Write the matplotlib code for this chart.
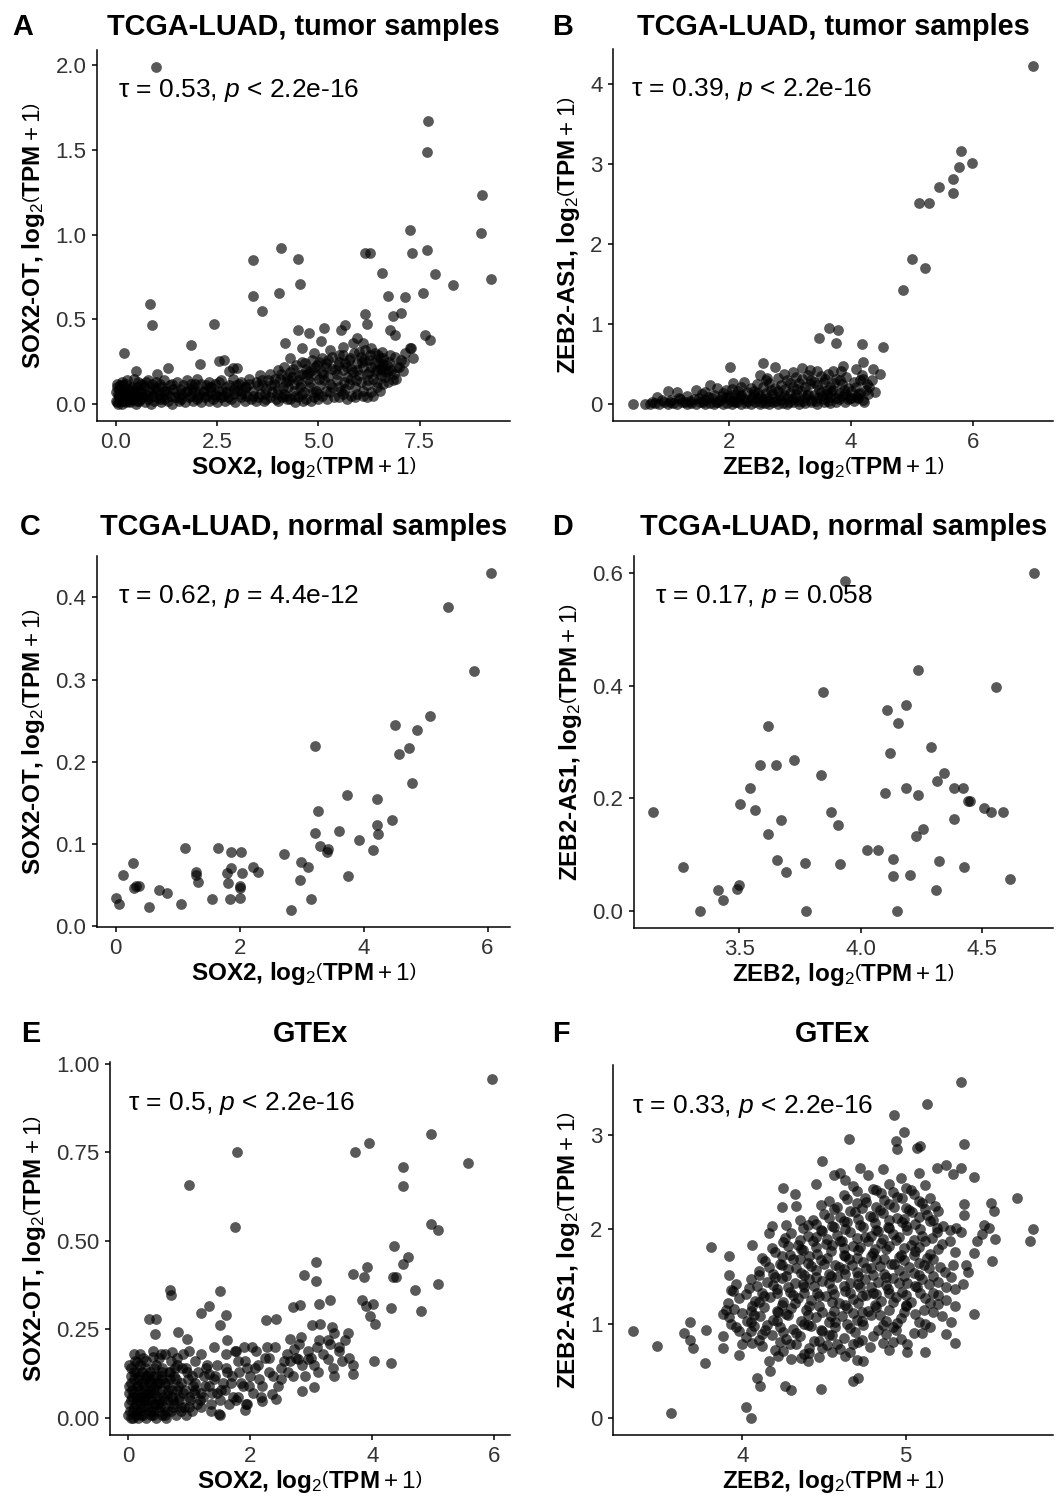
#!/usr/bin/env python3
"""SOX2 / SOX2-OT and ZEB2 / ZEB2-AS1 co-expression scatter panels."""

import matplotlib.pyplot as plt
import numpy as np

plt.rcParams["font.family"] = ["Liberation Sans", "DejaVu Sans"]
plt.rcParams["mathtext.fontset"] = "custom"
plt.rcParams["mathtext.rm"] = "Liberation Sans"
plt.rcParams["mathtext.it"] = "Liberation Sans:italic"
plt.rcParams["mathtext.bf"] = "Liberation Sans:bold"

# ---- data: (expression of gene, expression of lncRNA), log2(TPM + 1) ----
sox2_tumor = [
    (0.99, 1.99), (7.72, 1.67), (7.69, 1.49), (9.05, 1.235), (9.02, 1.01), (9.27, 0.74),
    (7.26, 1.03), (7.32, 0.89), (7.69, 0.91), (6.16, 0.89), (6.28, 0.89), (7.89, 0.765),
    (8.33, 0.705), (6.58, 0.775), (4.07, 0.92), (3.40, 0.85), (4.51, 0.857), (4.55, 0.71),
    (4.04, 0.657), (3.40, 0.637), (3.60, 0.55), (7.58, 0.657), (6.73, 0.637), (7.14, 0.63),
    (0.85, 0.588), (0.89, 0.467), (2.42, 0.475), (6.16, 0.53), (6.84, 0.52), (7.05, 0.54),
    (6.20, 0.47), (5.14, 0.45), (4.78, 0.42), (4.49, 0.44), (4.17, 0.36), (5.55, 0.44),
    (5.67, 0.467), (5.96, 0.39), (6.76, 0.44), (6.89, 0.41), (7.64, 0.41), (7.76, 0.38),
    (0.20, 0.30), (1.86, 0.35), (2.07, 0.235), (1.28, 0.215), (0.49, 0.196), (2.54, 0.255),
    (2.66, 0.26), (2.90, 0.215), (5.06, 0.37), (4.61, 0.33), (7.26, 0.33), (7.34, 0.275),
    (7.10, 0.196), (6.93, 0.147), (6.53, 0.275), (6.61, 0.235), (6.47, 0.29), (6.57, 0.22),
    (6.73, 0.194), (1.02, 0.175), (2.79, 0.194), (3.00, 0.214), (4.30, 0.27), (0.15, 0.13),
    (0.45, 0.15), (0.75, 0.13), (1.10, 0.12), (1.50, 0.13), (1.85, 0.12),
    (0.02, 0.01), (0.10, 0.03), (0.15, 0.00), (0.22, 0.02), (0.30, 0.04), (0.35, 0.01),
    (0.42, 0.03), (0.50, 0.00), (0.58, 0.02), (0.65, 0.04), (0.72, 0.01), (0.80, 0.03),
    (0.88, 0.00), (0.95, 0.02), (1.05, 0.04), (1.12, 0.01), (1.20, 0.03), (1.30, 0.02),
    (1.38, 0.00), (1.45, 0.04), (1.55, 0.02), (1.62, 0.03), (1.70, 0.01), (1.80, 0.04),
    (1.90, 0.02), (2.00, 0.03), (2.10, 0.01), (2.20, 0.04), (2.30, 0.02), (2.40, 0.03),
    (2.50, 0.01), (2.60, 0.04), (2.70, 0.02), (2.85, 0.03), (2.95, 0.01), (3.10, 0.04),
    (3.20, 0.02), (3.35, 0.03), (3.50, 0.04), (3.65, 0.02), (3.80, 0.04), (3.95, 0.03),
    (4.10, 0.04), (4.30, 0.03), (4.50, 0.04), (4.70, 0.03), (4.90, 0.04), (5.10, 0.05),
    (5.40, 0.04), (5.60, 0.06), (5.80, 0.05),
    (0.05, 0.06), (0.12, 0.08), (0.20, 0.05), (0.28, 0.07), (0.38, 0.06), (0.45, 0.08),
    (0.55, 0.05), (0.62, 0.07), (0.75, 0.06), (0.85, 0.08), (0.92, 0.05), (1.00, 0.07),
    (1.10, 0.06), (1.25, 0.08), (1.35, 0.05), (1.48, 0.07), (1.60, 0.06), (1.75, 0.08),
    (1.85, 0.05), (1.95, 0.07), (2.05, 0.06), (2.15, 0.08), (2.25, 0.05), (2.35, 0.07),
    (2.45, 0.06), (2.55, 0.08), (2.65, 0.05), (2.75, 0.07), (2.90, 0.06), (3.00, 0.08),
    (3.15, 0.07), (3.25, 0.05), (3.40, 0.08), (3.55, 0.06), (3.70, 0.09), (3.85, 0.07),
    (4.00, 0.09), (4.15, 0.06), (4.25, 0.10), (4.40, 0.08), (4.55, 0.10), (4.65, 0.07),
    (4.80, 0.10), (4.95, 0.08), (5.05, 0.11), (5.20, 0.08), (5.30, 0.12), (5.50, 0.10),
    (5.65, 0.09), (5.75, 0.12), (5.90, 0.10), (6.05, 0.13), (6.20, 0.11),
    (0.10, 0.11), (0.25, 0.12), (0.40, 0.10), (0.55, 0.13), (0.70, 0.10), (0.90, 0.12),
    (1.15, 0.10), (1.40, 0.12), (1.65, 0.11), (1.90, 0.10), (2.10, 0.12), (2.35, 0.10),
    (2.55, 0.13), (2.80, 0.11), (3.05, 0.12), (3.20, 0.10), (3.45, 0.13), (3.60, 0.11),
    (3.75, 0.14), (3.90, 0.12), (4.05, 0.15), (4.20, 0.13), (4.35, 0.16), (4.50, 0.14),
    (4.60, 0.18), (4.75, 0.15), (4.85, 0.20), (4.95, 0.17), (5.10, 0.19), (5.25, 0.16),
    (5.35, 0.21), (5.45, 0.18), (5.60, 0.20), (5.70, 0.16), (5.85, 0.19), (6.00, 0.17),
    (6.10, 0.22), (6.25, 0.19), (6.35, 0.15), (6.45, 0.20), (6.55, 0.17), (6.70, 0.23),
    (6.80, 0.20),
    (3.30, 0.15), (3.55, 0.17), (3.80, 0.18), (4.00, 0.20), (4.15, 0.22), (4.30, 0.19),
    (4.45, 0.23), (4.60, 0.25), (4.70, 0.21), (4.85, 0.26), (4.98, 0.23), (5.10, 0.27),
    (5.20, 0.24), (5.35, 0.28), (5.50, 0.25), (5.62, 0.29), (5.75, 0.26), (5.88, 0.30),
    (5.95, 0.24), (6.05, 0.28), (6.15, 0.32), (6.25, 0.26), (6.40, 0.30), (6.50, 0.24),
    (6.60, 0.27), (6.75, 0.25), (6.90, 0.28), (7.00, 0.22), (7.15, 0.30), (7.30, 0.33),
    (6.30, 0.07), (6.45, 0.10), (6.60, 0.12), (6.20, 0.04), (5.95, 0.06),
    (0.00, 0.02), (0.05, 0.00), (0.08, 0.05), (0.12, 0.02), (0.18, 0.04), (0.22, 0.08),
    (0.26, 0.01), (0.32, 0.06), (0.36, 0.03), (0.40, 0.09), (0.46, 0.05), (0.52, 0.02),
    (0.60, 0.08), (0.68, 0.04), (0.00, 0.07), (0.03, 0.10), (0.27, 0.14), (0.62, 0.12),
    (0.80, 0.14), (1.00, 0.13), (1.20, 0.14), (1.75, 0.14), (2.00, 0.15), (2.30, 0.13),
    (2.60, 0.14), (2.90, 0.15), (3.10, 0.13),
    (4.20, 0.05), (4.40, 0.12), (4.60, 0.06), (4.80, 0.13), (5.00, 0.06), (5.15, 0.14),
    (5.30, 0.07), (5.45, 0.14), (5.55, 0.08), (5.70, 0.22), (5.80, 0.15), (5.95, 0.20),
    (6.10, 0.08), (6.20, 0.18), (6.30, 0.22), (6.45, 0.13), (6.55, 0.21), (6.65, 0.16),
    (6.85, 0.14), (7.05, 0.26), (4.90, 0.30), (5.30, 0.32), (5.60, 0.34), (5.85, 0.36),
    (6.10, 0.36), (6.30, 0.33),
    (0.07, 0.04), (0.18, 0.06), (0.33, 0.02), (0.47, 0.07), (0.61, 0.03), (0.77, 0.05),
    (0.93, 0.09), (1.08, 0.03), (1.24, 0.06), (1.41, 0.09), (1.57, 0.04), (1.73, 0.07),
    (1.88, 0.09), (2.03, 0.04), (2.18, 0.07), (2.33, 0.10), (2.48, 0.05), (2.63, 0.08),
    (2.78, 0.04), (2.93, 0.09), (3.08, 0.06), (3.22, 0.10), (3.38, 0.05), (3.52, 0.11),
    (3.68, 0.06), (3.83, 0.11), (3.98, 0.06), (4.13, 0.10), (4.28, 0.14), (4.43, 0.05),
    (4.58, 0.12), (4.73, 0.18), (4.88, 0.07), (5.03, 0.15), (5.18, 0.22), (5.33, 0.10),
    (5.48, 0.23), (5.63, 0.13), (5.78, 0.27), (5.93, 0.14), (6.08, 0.25), (6.22, 0.14),
    (6.38, 0.24), (6.52, 0.08), (6.68, 0.19), (6.78, 0.29), (6.95, 0.22), (7.12, 0.25),
    (0.02, 0.12), (0.09, 0.09), (0.19, 0.11), (0.31, 0.09), (0.53, 0.10), (0.68, 0.11),
    (0.98, 0.10), (1.18, 0.08), (1.33, 0.11), (1.62, 0.09), (1.95, 0.12), (2.22, 0.11),
    (2.45, 0.12), (2.72, 0.10), (2.98, 0.11), (3.28, 0.12), (3.62, 0.14), (3.92, 0.15),
    (4.08, 0.18), (4.22, 0.16), (4.38, 0.21), (4.52, 0.17), (4.68, 0.24), (4.78, 0.19),
    (4.92, 0.22), (5.02, 0.25), (5.12, 0.18), (5.25, 0.26), (5.42, 0.20), (5.52, 0.29),
    (5.66, 0.24), (5.82, 0.21), (6.00, 0.31), (6.12, 0.26), (6.28, 0.29), (6.42, 0.19),
    (6.58, 0.31), (6.72, 0.13), (6.88, 0.18),
    (3.45, 0.02), (3.72, 0.03), (4.00, 0.02), (4.22, 0.03), (4.42, 0.01), (4.62, 0.02),
    (4.82, 0.02), (5.00, 0.03), (5.22, 0.03), (5.50, 0.04), (5.70, 0.03), (5.90, 0.04),
    (6.10, 0.05), (6.35, 0.05),
]

zeb2_tumor = [
    (6.99, 4.23), (5.81, 3.17), (5.78, 2.97), (5.98, 3.01), (5.68, 2.81), (5.68, 2.64),
    (5.45, 2.71), (5.11, 2.51), (5.28, 2.52), (5.00, 1.81), (5.22, 1.70), (4.86, 1.43),
    (3.48, 0.83), (3.64, 0.95), (3.79, 0.93), (3.75, 0.77), (4.18, 0.75), (4.53, 0.71),
    (3.87, 0.48), (4.20, 0.53), (4.37, 0.44), (4.09, 0.44), (2.01, 0.47), (2.56, 0.52),
    (2.75, 0.46), (0.42, 0.00), (0.61, 0.00),
    (0.82, 0.09), (1.00, 0.16), (1.14, 0.15), (1.46, 0.17), (1.68, 0.24), (2.07, 0.27),
    (3.05, 0.40), (3.19, 0.45), (3.33, 0.43), (3.44, 0.42), (4.47, 0.38), (3.71, 0.42),
    (3.83, 0.42), (4.15, 0.30), (4.27, 0.25), (3.98, 0.08), (4.12, 0.08),
    (0.70, 0.00), (0.78, 0.01), (0.85, 0.00), (0.93, 0.02), (1.00, 0.00), (1.08, 0.01),
    (1.15, 0.00), (1.22, 0.02), (1.30, 0.00), (1.38, 0.01), (1.45, 0.00), (1.52, 0.02),
    (1.60, 0.00), (1.68, 0.01), (1.75, 0.00), (1.82, 0.02), (1.90, 0.00), (1.97, 0.01),
    (2.05, 0.00), (2.12, 0.02), (2.20, 0.00), (2.28, 0.01), (2.35, 0.00), (2.42, 0.02),
    (2.50, 0.00), (2.58, 0.01), (2.65, 0.00), (2.72, 0.02), (2.80, 0.00), (2.88, 0.01),
    (2.95, 0.00), (3.05, 0.02), (3.15, 0.00), (3.25, 0.01), (3.35, 0.02), (3.45, 0.00),
    (3.55, 0.02), (3.65, 0.01), (3.75, 0.03), (3.90, 0.02), (4.05, 0.04),
    (1.05, 0.05), (1.20, 0.06), (1.35, 0.04), (1.50, 0.07), (1.60, 0.05), (1.72, 0.08),
    (1.85, 0.05), (1.95, 0.07), (2.05, 0.04), (2.15, 0.08), (2.25, 0.06), (2.35, 0.05),
    (2.45, 0.08), (2.55, 0.06), (2.65, 0.04), (2.75, 0.07), (2.85, 0.05), (2.95, 0.08),
    (3.05, 0.06), (3.15, 0.04), (3.25, 0.07), (3.35, 0.05), (3.45, 0.08), (3.55, 0.06),
    (3.65, 0.09), (3.75, 0.07), (3.85, 0.10), (3.95, 0.06), (4.10, 0.09), (4.20, 0.05),
    (1.30, 0.10), (1.55, 0.12), (1.75, 0.11), (1.90, 0.14), (2.00, 0.10), (2.10, 0.13),
    (2.20, 0.11), (2.30, 0.15), (2.40, 0.12), (2.50, 0.10), (2.60, 0.14), (2.70, 0.12),
    (2.80, 0.16), (2.90, 0.11), (3.00, 0.14), (3.10, 0.12), (3.20, 0.16), (3.30, 0.13),
    (3.40, 0.11), (3.50, 0.15), (3.60, 0.13), (3.70, 0.17), (3.80, 0.14), (3.90, 0.12),
    (4.00, 0.16), (4.15, 0.14), (4.25, 0.18),
    (1.80, 0.20), (2.05, 0.19), (2.20, 0.22), (2.35, 0.20), (2.45, 0.25), (2.55, 0.21),
    (2.65, 0.27), (2.75, 0.20), (2.85, 0.24), (2.95, 0.30), (3.05, 0.22), (3.15, 0.27),
    (3.25, 0.21), (3.35, 0.30), (3.45, 0.24), (3.55, 0.28), (3.65, 0.22), (3.75, 0.31),
    (3.85, 0.25), (3.95, 0.20), (4.05, 0.28), (4.20, 0.32), (4.30, 0.22),
    (2.50, 0.36), (2.62, 0.33), (2.90, 0.38), (3.10, 0.34), (3.30, 0.37), (3.50, 0.35),
    (3.62, 0.38),
    (0.74, 0.03), (0.89, 0.05), (1.03, 0.02), (1.17, 0.08), (1.27, 0.03), (1.42, 0.06),
    (1.57, 0.03), (1.66, 0.09), (1.79, 0.03), (1.88, 0.10), (2.00, 0.07), (2.09, 0.03),
    (2.18, 0.10), (2.30, 0.04), (2.38, 0.09), (2.47, 0.14), (2.53, 0.03), (2.62, 0.08),
    (2.68, 0.18), (2.77, 0.04), (2.83, 0.10), (2.92, 0.19), (2.98, 0.03), (3.08, 0.09),
    (3.12, 0.19), (3.22, 0.04), (3.28, 0.11), (3.32, 0.25), (3.42, 0.04), (3.48, 0.18),
    (3.52, 0.10), (3.58, 0.32), (3.62, 0.04), (3.68, 0.15), (3.72, 0.26), (3.80, 0.06),
    (3.88, 0.18), (3.92, 0.34), (4.00, 0.08), (4.08, 0.22), (4.12, 0.12), (4.18, 0.36),
    (4.22, 0.03), (4.28, 0.12), (4.35, 0.30), (4.40, 0.15), (2.25, 0.28), (2.40, 0.16),
    (2.60, 0.30), (2.80, 0.33), (3.00, 0.27), (3.20, 0.32), (3.40, 0.28), (3.60, 0.18),
    (3.82, 0.30), (1.60, 0.15), (1.95, 0.18), (2.15, 0.16),
]

sox2_normal = [
    (6.06, 0.430), (5.37, 0.389), (5.79, 0.311), (5.07, 0.255), (4.50, 0.245), (4.86, 0.239),
    (4.74, 0.217), (4.57, 0.209), (3.22, 0.219), (4.78, 0.174), (3.74, 0.159), (4.21, 0.155),
    (3.27, 0.140), (4.46, 0.129), (4.22, 0.123), (4.24, 0.112), (3.21, 0.113), (3.60, 0.116),
    (3.92, 0.105), (4.15, 0.092), (3.29, 0.097), (3.42, 0.093), (3.41, 0.090), (2.72, 0.088),
    (2.99, 0.078), (3.11, 0.072), (3.75, 0.061), (2.97, 0.056), (3.15, 0.032), (2.83, 0.019),
    (1.12, 0.095), (1.65, 0.095), (1.86, 0.090), (2.02, 0.090), (1.86, 0.070), (1.79, 0.064),
    (1.29, 0.065), (1.30, 0.062), (1.33, 0.053), (2.03, 0.064), (2.22, 0.072), (2.29, 0.066),
    (1.81, 0.052), (2.00, 0.049), (2.00, 0.046), (1.55, 0.032), (1.85, 0.032), (2.01, 0.034),
    (1.06, 0.026), (0.54, 0.023), (0.70, 0.044), (0.83, 0.040), (0.27, 0.076), (0.11, 0.062),
    (0.30, 0.046), (0.33, 0.048), (0.37, 0.049), (0.00, 0.034), (0.05, 0.027),
]

zeb2_normal = [
    (4.715, 0.600), (3.935, 0.586), (4.235, 0.427), (4.559, 0.398), (3.843, 0.388),
    (4.189, 0.365), (4.110, 0.356), (4.156, 0.334), (3.620, 0.328), (4.290, 0.292),
    (4.121, 0.281), (3.726, 0.268), (3.586, 0.260), (3.651, 0.259), (3.837, 0.242),
    (4.343, 0.245), (4.315, 0.231), (3.544, 0.219), (4.186, 0.219), (4.387, 0.219),
    (4.421, 0.219), (4.101, 0.209), (4.235, 0.206), (4.442, 0.196), (4.453, 0.195),
    (3.503, 0.190), (4.508, 0.183), (4.536, 0.176), (4.587, 0.176), (3.144, 0.176),
    (3.566, 0.180), (3.880, 0.176), (3.673, 0.162), (3.906, 0.152), (4.387, 0.164),
    (4.256, 0.146), (3.617, 0.136), (4.228, 0.134), (4.025, 0.109), (4.073, 0.108),
    (3.655, 0.091), (3.772, 0.086), (3.914, 0.084), (4.135, 0.093), (4.325, 0.089),
    (3.268, 0.079), (4.428, 0.078), (3.691, 0.069), (4.134, 0.062), (4.204, 0.064),
    (4.617, 0.057), (3.499, 0.046), (3.489, 0.040), (3.410, 0.038), (3.431, 0.020),
    (4.311, 0.037), (3.337, 0.000), (3.776, 0.000), (4.152, 0.000),
]

sox2_gtex = [
    (5.96, 0.957), (4.96, 0.802), (5.57, 0.721), (3.94, 0.777), (3.71, 0.750), (1.78, 0.752),
    (1.00, 0.658), (1.75, 0.538), (4.50, 0.709), (4.51, 0.656), (4.97, 0.549), (5.08, 0.530),
    (4.36, 0.486), (4.58, 0.455), (4.51, 0.434), (3.08, 0.440), (3.68, 0.407), (3.87, 0.398),
    (3.91, 0.426), (4.34, 0.398), (4.39, 0.398), (4.70, 0.362), (5.08, 0.379), (2.88, 0.403),
    (3.08, 0.387), (4.80, 0.302), (4.30, 0.311), (3.83, 0.332), (3.89, 0.315), (4.02, 0.323),
    (3.97, 0.287), (4.05, 0.266), (4.03, 0.162), (4.30, 0.156), (3.68, 0.150), (3.68, 0.125),
    (0.69, 0.360), (0.70, 0.346), (1.51, 0.358), (1.32, 0.315), (1.19, 0.297), (0.34, 0.280),
    (0.45, 0.280), (0.44, 0.238), (0.81, 0.242), (0.96, 0.224), (1.61, 0.290), (1.50, 0.264),
    (1.62, 0.219), (2.26, 0.277), (2.43, 0.280), (2.70, 0.313), (2.81, 0.318), (3.12, 0.323),
    (3.30, 0.332), (3.02, 0.264), (3.15, 0.266), (3.34, 0.258),
    (0.15, 0.158), (0.41, 0.172), (0.53, 0.181), (0.71, 0.186), (1.76, 0.190), (2.03, 0.200),
    (2.27, 0.200), (2.65, 0.224), (2.84, 0.230), (3.37, 0.240), (3.13, 0.220), (3.27, 0.220),
    (2.71, 0.195), (2.79, 0.167), (2.95, 0.167), (3.11, 0.129), (3.28, 0.167), (3.38, 0.120),
    (2.85, 0.077), (3.05, 0.087), (2.35, 0.068), (2.43, 0.054), (2.20, 0.049), (1.93, 0.040),
    (1.91, 0.024), (1.49, 0.011), (1.32, 0.125), (3.45, 0.200), (3.50, 0.160), (3.55, 0.220),
    (3.60, 0.240), (3.62, 0.170),
    (0.00, 0.01), (0.04, 0.00), (0.08, 0.02), (0.12, 0.01), (0.16, 0.00), (0.20, 0.02),
    (0.25, 0.01), (0.30, 0.00), (0.35, 0.02), (0.40, 0.01), (0.45, 0.00), (0.50, 0.02),
    (0.55, 0.01), (0.62, 0.00), (0.70, 0.02), (0.78, 0.01), (0.86, 0.03), (0.95, 0.01),
    (1.05, 0.02), (1.20, 0.03), (1.35, 0.02), (1.50, 0.01),
    (0.01, 0.04), (0.05, 0.05), (0.10, 0.03), (0.15, 0.05), (0.20, 0.04), (0.26, 0.05),
    (0.32, 0.03), (0.38, 0.05), (0.44, 0.04), (0.50, 0.05), (0.58, 0.03), (0.66, 0.05),
    (0.75, 0.04), (0.84, 0.05), (0.92, 0.03), (1.02, 0.05), (1.12, 0.04), (1.22, 0.06),
    (1.35, 0.04), (1.50, 0.05), (1.65, 0.04), (1.80, 0.06), (1.95, 0.04),
    (0.02, 0.07), (0.07, 0.08), (0.12, 0.06), (0.18, 0.08), (0.24, 0.07), (0.30, 0.06),
    (0.36, 0.08), (0.42, 0.07), (0.48, 0.06), (0.55, 0.08), (0.63, 0.07), (0.72, 0.06),
    (0.80, 0.08), (0.90, 0.07), (1.00, 0.06), (1.10, 0.08), (1.20, 0.07), (1.32, 0.09),
    (1.45, 0.07), (1.58, 0.08), (1.72, 0.06), (1.88, 0.09), (2.05, 0.07), (2.20, 0.09),
    (0.04, 0.10), (0.10, 0.11), (0.16, 0.09), (0.22, 0.10), (0.28, 0.11), (0.34, 0.10),
    (0.40, 0.12), (0.47, 0.10), (0.55, 0.11), (0.65, 0.10), (0.75, 0.12), (0.86, 0.10),
    (0.98, 0.11), (1.10, 0.10), (1.25, 0.12), (1.40, 0.11), (1.55, 0.10), (1.70, 0.12),
    (1.85, 0.10), (2.00, 0.12), (2.15, 0.11), (2.30, 0.13), (2.50, 0.11), (2.70, 0.12),
    (0.05, 0.14), (0.12, 0.13), (0.20, 0.15), (0.28, 0.14), (0.36, 0.13), (0.45, 0.15),
    (0.55, 0.14), (0.68, 0.13), (0.80, 0.15), (0.95, 0.14), (1.10, 0.16), (1.28, 0.14),
    (1.45, 0.15), (1.62, 0.13), (1.80, 0.16), (1.95, 0.14), (2.12, 0.15), (2.30, 0.17),
    (2.50, 0.14), (2.65, 0.16), (2.85, 0.15), (3.00, 0.17),
    (0.10, 0.18), (0.25, 0.17), (0.40, 0.19), (0.60, 0.18), (0.80, 0.17), (1.00, 0.19),
    (1.20, 0.18), (1.40, 0.20), (1.60, 0.18), (1.75, 0.19), (1.90, 0.20), (2.10, 0.19),
    (2.40, 0.20), (2.60, 0.18), (2.80, 0.21), (2.95, 0.19), (3.10, 0.20), (3.30, 0.21),
    (3.45, 0.19),
    (0.03, 0.02), (0.06, 0.06), (0.09, 0.13), (0.13, 0.04), (0.14, 0.09), (0.17, 0.12),
    (0.21, 0.01), (0.23, 0.06), (0.26, 0.09), (0.27, 0.03), (0.31, 0.12), (0.33, 0.07),
    (0.37, 0.01), (0.39, 0.10), (0.42, 0.04), (0.43, 0.14), (0.48, 0.08), (0.52, 0.03),
    (0.53, 0.12), (0.57, 0.06), (0.60, 0.10), (0.64, 0.02), (0.67, 0.13), (0.71, 0.08),
    (0.74, 0.03), (0.78, 0.11), (0.83, 0.06), (0.88, 0.14), (0.93, 0.08), (1.00, 0.03),
    (1.04, 0.12), (1.08, 0.07), (1.15, 0.13), (1.18, 0.05), (1.26, 0.09), (1.30, 0.15),
    (1.38, 0.07), (1.43, 0.12), (1.52, 0.08), (1.60, 0.14), (1.68, 0.10), (1.77, 0.05),
    (1.82, 0.13), (1.92, 0.16), (1.98, 0.09), (2.08, 0.14), (2.18, 0.06), (2.25, 0.17),
    (2.38, 0.12), (2.45, 0.09), (2.55, 0.16), (2.62, 0.13), (2.75, 0.17), (2.90, 0.12),
    (3.05, 0.15), (3.20, 0.18), (3.35, 0.14), (0.02, 0.15), (0.11, 0.16), (0.19, 0.18),
    (0.30, 0.16), (0.50, 0.17), (0.70, 0.16), (0.90, 0.18),
    (0.01, 0.09), (0.05, 0.12), (0.08, 0.00), (0.10, 0.07), (0.14, 0.02), (0.16, 0.11),
    (0.19, 0.06), (0.22, 0.13), (0.24, 0.03), (0.27, 0.08), (0.29, 0.12), (0.32, 0.05),
    (0.35, 0.11), (0.37, 0.07), (0.41, 0.02), (0.44, 0.09), (0.46, 0.12), (0.49, 0.04),
    (0.51, 0.10), (0.56, 0.13), (0.59, 0.05), (0.61, 0.01), (0.65, 0.08), (0.69, 0.11),
    (0.73, 0.05), (0.76, 0.14), (0.82, 0.09), (0.87, 0.02), (0.96, 0.13), (1.06, 0.09),
]

zeb2_gtex = [
    (5.34, 3.56), (5.13, 3.32), (4.93, 3.21), (4.65, 2.95), (4.99, 3.03), (4.94, 2.93),
    (4.95, 2.85), (5.07, 2.86), (5.09, 2.88), (5.36, 2.90), (5.34, 2.65), (4.49, 2.72),
    (5.42, 2.55), (5.68, 2.33), (5.78, 2.00), (5.76, 1.88), (5.53, 1.66), (5.42, 1.10),
    (3.81, 1.81), (3.92, 1.72), (3.33, 0.92), (3.48, 0.76), (3.64, 0.90), (3.68, 0.83),
    (3.70, 0.74), (3.77, 0.58), (3.78, 0.93), (3.56, 0.06), (4.02, 0.12), (4.05, 0.00),
    (4.09, 0.43), (4.11, 0.34), (4.26, 0.34), (4.30, 0.30), (4.48, 0.31), (4.68, 0.39),
    (4.71, 0.43), (5.25, 0.89), (5.30, 0.80), (5.12, 0.70), (5.01, 0.70), (4.92, 0.81),
    (4.74, 0.60), (4.36, 0.64), (4.40, 0.60), (3.88, 0.87), (3.88, 0.74), (3.98, 0.67),
    (4.00, 0.78), (4.05, 0.92), (4.16, 0.60), (4.17, 0.50), (3.68, 1.02), (3.90, 1.15),
    (3.92, 1.52), (3.94, 1.35), (4.25, 2.44), (4.32, 2.37), (4.33, 2.25), (4.24, 2.23),
    (4.35, 2.10), (4.40, 2.04), (4.16, 1.96), (4.18, 2.03), (4.27, 2.04), (4.06, 1.83),
    (4.45, 2.48), (4.63, 2.52), (4.56, 2.57), (4.72, 2.65), (4.86, 2.64), (5.19, 2.65),
    (5.25, 2.68), (5.29, 2.58), (5.52, 2.28), (5.54, 2.19), (5.48, 2.04), (5.51, 2.01),
    (5.55, 1.90), (5.47, 1.95), (5.44, 1.87), (5.42, 1.75), (5.36, 2.27), (5.36, 2.15),
    (5.31, 2.01), (5.34, 1.97), (5.27, 1.87), (5.30, 1.76), (5.37, 1.62), (5.38, 1.55),
    (4.22, 0.66), (4.30, 0.63), (4.38, 0.68), (4.47, 0.65), (4.55, 0.70), (4.63, 0.66),
    (4.70, 0.62),
    (4.12, 0.76), (4.20, 0.72), (4.33, 0.78), (4.41, 0.74), (4.52, 0.77), (4.60, 0.73),
    (4.68, 0.79), (4.78, 0.75), (4.90, 0.72),
    (4.02, 0.86), (4.10, 0.83), (4.18, 0.88), (4.27, 0.84), (4.35, 0.87), (4.44, 0.82),
    (4.53, 0.88), (4.62, 0.85), (4.71, 0.81), (4.80, 0.87), (4.97, 0.84), (5.05, 0.90),
    (3.96, 0.96), (4.07, 0.98), (4.14, 0.93), (4.23, 0.97), (4.31, 0.94), (4.40, 0.99),
    (4.48, 0.93), (4.57, 0.97), (4.66, 0.95), (4.74, 0.99), (4.83, 0.93), (4.92, 0.97),
    (5.15, 0.96),
    (3.92, 1.07), (4.03, 1.03), (4.11, 1.08), (4.19, 1.04), (4.28, 1.09), (4.36, 1.03),
    (4.45, 1.07), (4.53, 1.02), (4.61, 1.08), (4.70, 1.04), (4.79, 1.09), (4.88, 1.03),
    (4.97, 1.06), (5.08, 1.02), (5.22, 1.08),
    (3.95, 1.16), (4.05, 1.13), (4.13, 1.18), (4.22, 1.12), (4.30, 1.17), (4.39, 1.14),
    (4.47, 1.19), (4.56, 1.13), (4.64, 1.17), (4.73, 1.12), (4.82, 1.18), (4.90, 1.14),
    (5.00, 1.19), (5.11, 1.15), (5.20, 1.21),
    (3.98, 1.27), (4.08, 1.24), (4.17, 1.28), (4.25, 1.23), (4.34, 1.27), (4.42, 1.25),
    (4.51, 1.29), (4.59, 1.22), (4.68, 1.26), (4.76, 1.30), (4.85, 1.24), (4.94, 1.28),
    (5.03, 1.23), (5.12, 1.27), (5.25, 1.25),
    (3.93, 1.36), (4.04, 1.38), (4.12, 1.33), (4.21, 1.37), (4.29, 1.34), (4.38, 1.39),
    (4.46, 1.33), (4.55, 1.37), (4.63, 1.35), (4.72, 1.39), (4.80, 1.33), (4.89, 1.37),
    (4.98, 1.34), (5.07, 1.39), (5.17, 1.33), (5.30, 1.37),
    (4.05, 1.47), (4.15, 1.44), (4.24, 1.48), (4.32, 1.43), (4.41, 1.47), (4.49, 1.45),
    (4.58, 1.49), (4.66, 1.43), (4.75, 1.47), (4.83, 1.44), (4.92, 1.48), (5.01, 1.43),
    (5.10, 1.47), (5.20, 1.44), (5.28, 1.49),
    (4.10, 1.56), (4.19, 1.53), (4.28, 1.58), (4.36, 1.54), (4.45, 1.57), (4.53, 1.53),
    (4.62, 1.58), (4.70, 1.55), (4.79, 1.59), (4.87, 1.53), (4.96, 1.57), (5.05, 1.54),
    (5.14, 1.59), (5.24, 1.55),
    (4.14, 1.66), (4.23, 1.63), (4.31, 1.68), (4.40, 1.64), (4.48, 1.67), (4.57, 1.62),
    (4.65, 1.68), (4.74, 1.65), (4.82, 1.69), (4.91, 1.63), (4.99, 1.67), (5.08, 1.64),
    (5.17, 1.68),
    (4.20, 1.76), (4.29, 1.73), (4.37, 1.78), (4.46, 1.74), (4.54, 1.77), (4.63, 1.72),
    (4.71, 1.78), (4.80, 1.75), (4.88, 1.79), (4.97, 1.73), (5.06, 1.77), (5.15, 1.74),
    (4.25, 1.86), (4.34, 1.83), (4.43, 1.88), (4.51, 1.84), (4.60, 1.87), (4.68, 1.82),
    (4.77, 1.88), (4.85, 1.85), (4.94, 1.89), (5.03, 1.83), (5.12, 1.87), (5.22, 1.84),
    (4.30, 1.96), (4.40, 1.93), (4.49, 1.98), (4.58, 1.94), (4.66, 1.97), (4.75, 1.92),
    (4.83, 1.98), (4.92, 1.95), (5.01, 1.99), (5.10, 1.93), (5.19, 1.97),
    (4.45, 2.06), (4.55, 2.03), (4.64, 2.08), (4.72, 2.04), (4.81, 2.07), (4.89, 2.02),
    (4.98, 2.08), (5.06, 2.05), (5.15, 2.09), (5.23, 2.03),
    (4.50, 2.16), (4.60, 2.13), (4.69, 2.18), (4.78, 2.14), (4.86, 2.17), (4.95, 2.12),
    (5.04, 2.18), (5.13, 2.15), (5.20, 2.19),
    (4.48, 2.26), (4.58, 2.23), (4.70, 2.28), (4.82, 2.24), (4.90, 2.27), (5.00, 2.22),
    (5.10, 2.28), (5.18, 2.25),
    (4.62, 2.36), (4.75, 2.33), (4.85, 2.38), (4.95, 2.34), (5.05, 2.37), (5.15, 2.33),
    (4.68, 2.46), (4.80, 2.43), (4.90, 2.48), (5.00, 2.44), (5.12, 2.47),
    (4.25, 0.71), (4.41, 0.69), (4.49, 0.74), (4.66, 0.70),
    (4.06, 0.80), (4.23, 0.81), (4.29, 0.78), (4.47, 0.82), (4.58, 0.79), (4.73, 0.83),
    (4.86, 0.80), (5.01, 0.78),
    (3.98, 0.92), (4.12, 0.89), (4.25, 0.91), (4.33, 0.90), (4.49, 0.92), (4.55, 0.88),
    (4.69, 0.91), (4.88, 0.89), (4.94, 0.93), (5.10, 0.90),
    (3.93, 1.00), (4.05, 1.02), (4.15, 0.99), (4.21, 1.03), (4.38, 1.00), (4.42, 0.98),
    (4.57, 1.02), (4.64, 1.00), (4.73, 1.03), (4.86, 0.99), (4.95, 1.01), (5.12, 1.00),
    (5.28, 1.02),
    (3.88, 1.10), (4.00, 1.11), (4.07, 1.09), (4.21, 1.13), (4.27, 1.10), (4.40, 1.09),
    (4.49, 1.12), (4.54, 1.08), (4.68, 1.11), (4.77, 1.13), (4.84, 1.09), (4.99, 1.12),
    (5.06, 1.10), (5.17, 1.12),
    (3.91, 1.22), (4.06, 1.19), (4.10, 1.23), (4.24, 1.20), (4.32, 1.22), (4.41, 1.19),
    (4.55, 1.23), (4.63, 1.20), (4.71, 1.22), (4.81, 1.20), (4.92, 1.23), (5.00, 1.20),
    (5.15, 1.22), (5.30, 1.19),
    (4.02, 1.31), (4.13, 1.29), (4.21, 1.32), (4.31, 1.30), (4.38, 1.33), (4.47, 1.29),
    (4.56, 1.31), (4.66, 1.32), (4.73, 1.29), (4.82, 1.31), (4.90, 1.33), (5.00, 1.30),
    (5.09, 1.32), (5.20, 1.30),
    (3.96, 1.42), (4.09, 1.40), (4.19, 1.41), (4.28, 1.39), (4.37, 1.42), (4.44, 1.40),
    (4.53, 1.43), (4.62, 1.40), (4.71, 1.42), (4.79, 1.39), (4.88, 1.41), (4.96, 1.43),
    (5.06, 1.40), (5.14, 1.42), (5.25, 1.39), (5.35, 1.42),
    (4.10, 1.52), (4.20, 1.49), (4.27, 1.51), (4.38, 1.52), (4.45, 1.49), (4.54, 1.51),
    (4.63, 1.53), (4.71, 1.50), (4.80, 1.52), (4.88, 1.49), (4.99, 1.51), (5.08, 1.52),
    (5.17, 1.50),
    (4.16, 1.60), (4.24, 1.62), (4.33, 1.59), (4.42, 1.61), (4.50, 1.63), (4.59, 1.60),
    (4.67, 1.62), (4.76, 1.59), (4.84, 1.61), (4.93, 1.63), (5.02, 1.60), (5.11, 1.62),
    (5.21, 1.60), (5.29, 1.62),
    (4.12, 1.70), (4.24, 1.72), (4.35, 1.69), (4.41, 1.72), (4.52, 1.70), (4.62, 1.73),
    (4.70, 1.70), (4.79, 1.72), (4.87, 1.69), (4.96, 1.71), (5.05, 1.73), (5.13, 1.70),
    (4.18, 1.80), (4.28, 1.82), (4.36, 1.79), (4.45, 1.81), (4.55, 1.83), (4.62, 1.80),
    (4.72, 1.81), (4.81, 1.79), (4.90, 1.82), (4.99, 1.80), (5.08, 1.81), (5.20, 1.79),
    (4.26, 1.91), (4.35, 1.89), (4.45, 1.92), (4.52, 1.90), (4.61, 1.88), (4.70, 1.91),
    (4.79, 1.93), (4.86, 1.90), (4.96, 1.92), (5.05, 1.89), (5.16, 1.91),
    (4.37, 2.01), (4.48, 1.99), (4.56, 2.02), (4.63, 2.00), (4.74, 2.02), (4.82, 1.99),
    (4.90, 2.01), (5.00, 2.03), (5.09, 2.00), (5.19, 2.01), (5.27, 1.99),
    (4.43, 2.10), (4.53, 2.12), (4.62, 2.09), (4.71, 2.11), (4.80, 2.13), (4.90, 2.10),
    (4.99, 2.11), (5.08, 2.13), (5.17, 2.10),
    (4.56, 2.21), (4.66, 2.19), (4.73, 2.22), (4.84, 2.20), (4.93, 2.23), (5.02, 2.20),
    (5.12, 2.21),
    (4.53, 2.30), (4.64, 2.32), (4.76, 2.29), (4.87, 2.31), (4.98, 2.33), (5.08, 2.30),
    (4.70, 2.40), (4.82, 2.42), (4.92, 2.39), (5.03, 2.41),
    (4.77, 2.57), (4.97, 2.54), (5.08, 2.59), (4.60, 2.60),
]

panel_letters = ["A", "B", "C", "D", "E", "F"]
panel_titles = [
    "TCGA-LUAD, tumor samples", "TCGA-LUAD, tumor samples",
    "TCGA-LUAD, normal samples", "TCGA-LUAD, normal samples",
    "GTEx", "GTEx",
]
tau_values = ["0.53", "0.39", "0.62", "0.17", "0.5", "0.33"]
p_values = ["< 2.2e-16", "< 2.2e-16", "= 4.4e-12", "= 0.058", "< 2.2e-16", "< 2.2e-16"]
x_genes = ["SOX2", "ZEB2", "SOX2", "ZEB2", "SOX2", "ZEB2"]
y_genes = ["SOX2-OT", "ZEB2-AS1", "SOX2-OT", "ZEB2-AS1", "SOX2-OT", "ZEB2-AS1"]
x_ticks = [[0, 2.5, 5, 7.5], [2, 4, 6], [0, 2, 4, 6], [3.5, 4.0, 4.5], [0, 2, 4, 6], [4, 5]]
x_ticklabels = [["0.0", "2.5", "5.0", "7.5"], ["2", "4", "6"], ["0", "2", "4", "6"],
                ["3.5", "4.0", "4.5"], ["0", "2", "4", "6"], ["4", "5"]]
y_ticks = [[0, 0.5, 1.0, 1.5, 2.0], [0, 1, 2, 3, 4], [0, 0.1, 0.2, 0.3, 0.4],
           [0, 0.2, 0.4, 0.6], [0, 0.25, 0.5, 0.75, 1.0], [0, 1, 2, 3]]
y_ticklabels = [["0.0", "0.5", "1.0", "1.5", "2.0"], ["0", "1", "2", "3", "4"],
                ["0.0", "0.1", "0.2", "0.3", "0.4"], ["0.0", "0.2", "0.4", "0.6"],
                ["0.00", "0.25", "0.50", "0.75", "1.00"], ["0", "1", "2", "3"]]

panel_data = [sox2_tumor, zeb2_tumor, sox2_normal, zeb2_normal, sox2_gtex, zeb2_gtex]

# ---- layout in pixels: (left, right, top, bottom) of each plotting area ----
W, H = 1059, 1504
boxes = [
    (97, 510, 50, 421), (613, 1053, 49, 421),
    (97, 510, 556, 927), (634, 1053, 556, 928),
    (110, 510, 1062, 1435), (613, 1053, 1065, 1435),
]
letter_x = [12, 552, 20, 552, 21, 552]
title_base = [35, 35, 535, 535, 1042, 1042]
label_pos = [(0.051, 0.892), (0.041, 0.892), (0.051, 0.892),
             (0.050, 0.89), (0.045, 0.888), (0.043, 0.888)]

fig = plt.figure(figsize=(W / 100, H / 100), dpi=100)

for i in range(6):
    left, right, top, bottom = boxes[i]
    ax = fig.add_axes([left / W, 1 - bottom / H, (right - left) / W, (bottom - top) / H])
    pts = np.array(panel_data[i])
    ax.scatter(pts[:, 0], pts[:, 1], s=60, c="black", alpha=0.65, linewidths=0)
    ax.margins(0.05)

    for side in ("top", "right"):
        ax.spines[side].set_visible(False)
    for side in ("left", "bottom"):
        ax.spines[side].set_linewidth(1.1)

    ax.set_xticks(x_ticks[i])
    ax.set_xticklabels(x_ticklabels[i])
    ax.set_yticks(y_ticks[i])
    ax.set_yticklabels(y_ticklabels[i])
    ax.tick_params(length=3.6, width=1.1, labelsize=16, labelcolor="#333333", pad=4)

    ax.set_xlabel(x_genes[i] + r", log$_2\left(\mathbf{TPM}+1\right)$",
                  fontsize=17.5, fontweight="bold", labelpad=1)
    ax.set_ylabel(y_genes[i] + r", log$_2\left(\mathbf{TPM}+1\right)$",
                  fontsize=17.5, fontweight="bold", labelpad=6)

    ax.text(label_pos[i][0], label_pos[i][1],
            "\u03c4 = " + tau_values[i] + ", $\\mathit{p}$ " + p_values[i],
            transform=ax.transAxes, fontsize=19, ha="left", va="center")

    fig.text((left + right) / 2 / W, 1 - title_base[i] / H, panel_titles[i],
             fontsize=20.8, fontweight="bold", ha="center", va="baseline")
    fig.text(letter_x[i] / W, 1 - title_base[i] / H, panel_letters[i],
             fontsize=20.8, fontweight="bold", ha="left", va="baseline")

fig.savefig("out.png", dpi=100)
